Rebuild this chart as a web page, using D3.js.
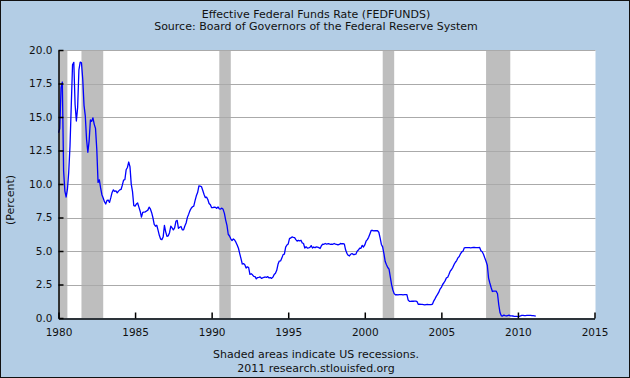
<!DOCTYPE html>
<html>
<head>
<meta charset="utf-8">
<script src="https://d3js.org/d3.v7.min.js"></script>
<style>
body { margin:0; padding:0; }
#chart { width:630px; height:378px; }
text { font-family:"DejaVu Sans", Verdana, sans-serif; fill:#111; }
</style>
</head>
<body>
<div id="chart"></div>
<script>
// monthly effective fed funds rate, starting Jan 1980
var startYear = 1980;
var fedfunds = [
	13.82,14.13,17.19,17.61,10.98,9.47,9.03,9.61,10.87,12.81,15.85,18.90,
	19.08,15.93,14.70,15.72,18.52,19.10,19.04,17.82,15.87,15.08,13.31,12.37,
	13.22,14.78,14.68,14.94,14.45,14.15,12.59,10.12,10.31,9.71,9.20,8.95,
	8.68,8.51,8.77,8.80,8.63,8.98,9.37,9.56,9.45,9.48,9.34,9.47,
	9.56,9.59,9.91,10.29,10.32,11.06,11.23,11.64,11.30,9.99,9.43,8.38,
	8.35,8.50,8.58,8.27,7.97,7.53,7.88,7.90,7.92,7.99,8.05,8.27,
	8.14,7.86,7.48,6.99,6.85,6.92,6.56,6.17,5.89,5.85,6.04,6.91,
	6.43,6.10,6.13,6.37,6.85,6.73,6.58,6.73,7.22,7.29,6.69,6.77,
	6.83,6.58,6.58,6.87,7.09,7.51,7.75,8.01,8.19,8.30,8.35,8.76,
	9.12,9.36,9.85,9.84,9.81,9.53,9.24,8.99,9.02,8.84,8.55,8.45,
	8.23,8.24,8.28,8.26,8.18,8.29,8.15,8.13,8.20,8.11,7.81,7.31,
	6.91,6.25,6.12,5.91,5.78,5.90,5.82,5.66,5.45,5.21,4.81,4.43,
	4.03,4.06,3.98,3.73,3.82,3.76,3.25,3.30,3.22,3.10,3.09,2.92,
	3.02,3.03,3.07,2.96,3.00,3.04,3.06,3.03,3.09,2.99,3.02,2.96,
	3.05,3.25,3.34,3.56,4.01,4.25,4.26,4.47,4.73,4.76,5.29,5.45,
	5.53,5.92,5.98,6.05,6.01,6.00,5.85,5.74,5.80,5.76,5.80,5.60,
	5.56,5.22,5.31,5.22,5.24,5.27,5.40,5.22,5.30,5.24,5.31,5.29,
	5.25,5.19,5.39,5.51,5.50,5.56,5.52,5.54,5.54,5.50,5.52,5.50,
	5.56,5.51,5.49,5.45,5.49,5.56,5.54,5.55,5.51,5.07,4.83,4.68,
	4.63,4.76,4.81,4.74,4.74,4.76,4.99,5.07,5.22,5.20,5.42,5.30,
	5.45,5.73,5.85,6.02,6.27,6.53,6.54,6.50,6.52,6.51,6.51,6.40,
	5.98,5.49,5.31,4.80,4.21,3.97,3.77,3.65,3.07,2.49,2.09,1.82,
	1.73,1.74,1.73,1.75,1.75,1.75,1.73,1.74,1.75,1.75,1.34,1.24,
	1.24,1.26,1.25,1.26,1.26,1.22,1.01,1.03,1.01,1.01,1.00,0.98,
	1.00,1.01,1.00,1.00,1.00,1.03,1.26,1.43,1.61,1.76,1.93,2.16,
	2.28,2.50,2.63,2.79,3.00,3.04,3.26,3.50,3.62,3.78,4.00,4.16,
	4.29,4.49,4.59,4.79,4.94,4.99,5.24,5.25,5.25,5.25,5.25,5.24,
	5.25,5.26,5.26,5.25,5.25,5.25,5.26,5.02,4.94,4.76,4.49,4.24,
	3.94,2.98,2.61,2.28,1.98,2.00,2.01,2.00,1.81,0.97,0.39,0.16,
	0.15,0.22,0.18,0.15,0.18,0.21,0.16,0.16,0.15,0.12,0.12,0.12,
	0.11,0.13,0.16,0.20,0.20,0.18,0.18,0.19,0.19,0.19,0.19,0.18,
	0.17,0.16,0.14
];
// recession start/end as decimal years
var recessions = [[1980.0, 1980.58], [1981.5, 1982.92], [1990.5, 1991.25], [2001.17, 2001.92], [2007.92, 2009.5]];
var xTicks = [1980, 1985, 1990, 1995, 2000, 2005, 2010, 2015];
var yTicks = [0, 2.5, 5, 7.5, 10, 12.5, 15, 17.5, 20];

var width = 630, height = 378;
var plotLeft = 58.5, plotRight = 595.5, plotTop = 50, plotBottom = 318;

var svg = d3.select("#chart").append("svg")
	.attr("width", width)
	.attr("height", height);

svg.append("rect")
	.attr("x", 0.5).attr("y", 0.5)
	.attr("width", width - 1).attr("height", height - 1)
	.attr("fill", "#b3cde5")
	.attr("stroke", "#111");

var x = d3.scaleLinear().domain([1980, 2015]).range([plotLeft, plotRight - 1]);
var y = d3.scaleLinear().domain([0, 20]).range([plotBottom, plotTop]);

// plot area
svg.append("rect")
	.attr("x", plotLeft).attr("y", plotTop)
	.attr("width", plotRight - plotLeft).attr("height", plotBottom - plotTop)
	.attr("fill", "white");

svg.append("g").selectAll("rect")
	.data(recessions)
	.enter().append("rect")
	.attr("x", function(d){ return x(d[0]); })
	.attr("y", plotTop)
	.attr("width", function(d){ return x(d[1]) - x(d[0]); })
	.attr("height", plotBottom - plotTop)
	.attr("fill", "#bebebe");

// gridlines
svg.append("g").selectAll("line")
	.data(yTicks.slice(1))
	.enter().append("line")
	.attr("x1", plotLeft).attr("x2", plotRight)
	.attr("y1", function(d){ return Math.round(y(d)) + 0.5; })
	.attr("y2", function(d){ return Math.round(y(d)) + 0.5; })
	.attr("stroke", "#aaaaaa")
	.attr("stroke-width", 1);

// the series
var line = d3.line()
	.x(function(d, i){ return x(startYear + i / 12); })
	.y(function(d){ return y(d); });

svg.append("path")
	.datum(fedfunds)
	.attr("d", line)
	.attr("fill", "none")
	.attr("stroke", "#0000ff")
	.attr("stroke-width", 1.3)
	.attr("stroke-linejoin", "round");

// axes
var xAxis = d3.axisBottom(x).tickValues(xTicks).tickFormat(d3.format("d"))
	.tickSizeInner(-6).tickSizeOuter(0).tickPadding(10);
var gx = svg.append("g")
	.attr("transform", "translate(0," + (plotBottom + 0.5) + ")")
	.call(xAxis);

var yAxis = d3.axisLeft(y).tickValues(yTicks).tickFormat(d3.format(".1f"))
	.tickSizeInner(-5).tickSizeOuter(0).tickPadding(6);
var gy = svg.append("g")
	.attr("transform", "translate(" + plotLeft + ",0)")
	.call(yAxis);

[gx, gy].forEach(function(g){
	g.selectAll("path.domain").attr("stroke", "#000").attr("stroke-width", 1.5);
	g.selectAll(".tick line").attr("stroke", "#000").attr("stroke-width", 1.5);
	g.selectAll("text")
		.style("font-family", "'DejaVu Sans', Verdana, sans-serif")
		.style("font-size", "10.5px")
		.attr("fill", "#111");
});

// titles
svg.append("text")
	.attr("x", 316).attr("y", 18)
	.attr("text-anchor", "middle")
	.style("font-size", "11px")
	.text("Effective Federal Funds Rate (FEDFUNDS)");

svg.append("text")
	.attr("x", 316).attr("y", 30)
	.attr("text-anchor", "middle")
	.style("font-size", "11px")
	.text("Source: Board of Governors of the Federal Reserve System");

svg.append("text")
	.attr("transform", "translate(14,200) rotate(-90)")
	.attr("text-anchor", "middle")
	.style("font-size", "11px")
	.text("(Percent)");

svg.append("text")
	.attr("x", 316).attr("y", 358)
	.attr("text-anchor", "middle")
	.style("font-size", "11px")
	.text("Shaded areas indicate US recessions.");

svg.append("text")
	.attr("x", 316).attr("y", 372)
	.attr("text-anchor", "middle")
	.style("font-size", "11px")
	.text("2011 research.stlouisfed.org");
</script>
</body>
</html>
